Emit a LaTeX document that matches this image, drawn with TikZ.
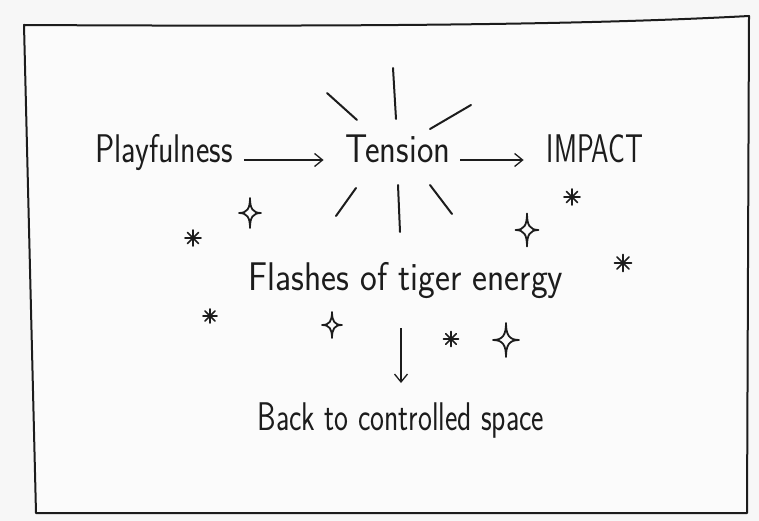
\documentclass[tikz,border=0pt]{standalone}
\usepackage{fontspec}
\usepackage{graphicx}
\usetikzlibrary{arrows.meta,calc}
\definecolor{pagebg}{HTML}{F7F7F7}
\definecolor{cardbg}{HTML}{FBFBFB}
\definecolor{ink}{HTML}{1C1C1C}

\tikzset{
  word/.style={font=\fontsize{40}{44}\selectfont\sffamily, text=ink, inner sep=0pt, anchor=base},
  flow/.style={->, line width=1.3pt, draw=ink},
  ray/.style={line width=2pt, draw=ink, line cap=round},
  sparkle/.pic={
    \draw[ink, line width=1.8pt, line join=round]
      (0,-1) .. controls (0,-0.3) and (0.25,0) .. (1,0)
             .. controls (0.25,0) and (0,0.3) .. (0,1)
             .. controls (0,0.3) and (-0.25,0) .. (-1,0)
             .. controls (-0.25,0) and (0,-0.3) .. (0,-1) -- cycle;
  },
  asterisk/.pic={
    \foreach \a in {0,45,90,135}
      \draw[ink, line width=1.6pt, line cap=round] (\a:1) -- (\a+180:1);
  },
}

\begin{document}
\begin{tikzpicture}[x=1pt,y=-1pt,>={Straight Barb[length=8pt,width=13pt]}]
% page and card
\fill[pagebg] (0,0) rectangle (759,521);
\useasboundingbox (0,0) rectangle (759,521);
\filldraw[fill=cardbg, draw=ink, line width=2pt, line join=round]
  (24,25) .. controls (400,27) and (600,24) .. (749,16)
  -- (747,513) -- (36,513) -- cycle;

% words
\node[word] (play) at (164,163) {\scalebox{0.80}[1]{Playfulness}};
\node[word] (tension) at (398,163) {\scalebox{0.87}[1]{Tension}};
\node[word] (impact) at (595,163) {\scalebox{0.70}[1]{IMPACT}};
\node[word] (flashes) at (406,290) {\scalebox{0.89}[1]{Flashes of tiger energy}};
\node[word] (back) at (401,430) {\scalebox{0.74}[1]{Back to controlled space}};

% arrows
\draw[flow, shorten <=11pt, shorten >=22pt] ([yshift=3pt]play.base east) -- ([yshift=3pt]tension.base west);
\draw[flow, shorten <=10pt, shorten >=23pt] ([yshift=3pt]tension.base east) -- ([yshift=3pt]impact.base west);
\draw[flow, shorten <=30pt, shorten >=19pt] (flashes.south -| back.north) -- (back.north);

% rays round tension
\draw[ray] (393,68) -- (396,119);
\draw[ray] (327,93) -- (357,120);
\draw[ray] (471,105) -- (430,129);
\draw[ray] (356,188) -- (336,216);
\draw[ray] (398,185) -- (400,232);
\draw[ray] (430,185) -- (452,214);

% sparkles
\path (250,213) pic[xscale=11, yscale=15] {sparkle};
\path (332,325) pic[xscale=10, yscale=13] {sparkle};
\path (527,230) pic[xscale=11.5, yscale=16.5] {sparkle};
\path (506,340) pic[xscale=13, yscale=17] {sparkle};

% asterisks
\path (193,238) pic[scale=8] {asterisk};
\path (210,316) pic[scale=7] {asterisk};
\path (572,197) pic[scale=8] {asterisk};
\path (623,263) pic[scale=8.5] {asterisk};
\path (451,339) pic[scale=7.5] {asterisk};
\end{tikzpicture}
\end{document}
